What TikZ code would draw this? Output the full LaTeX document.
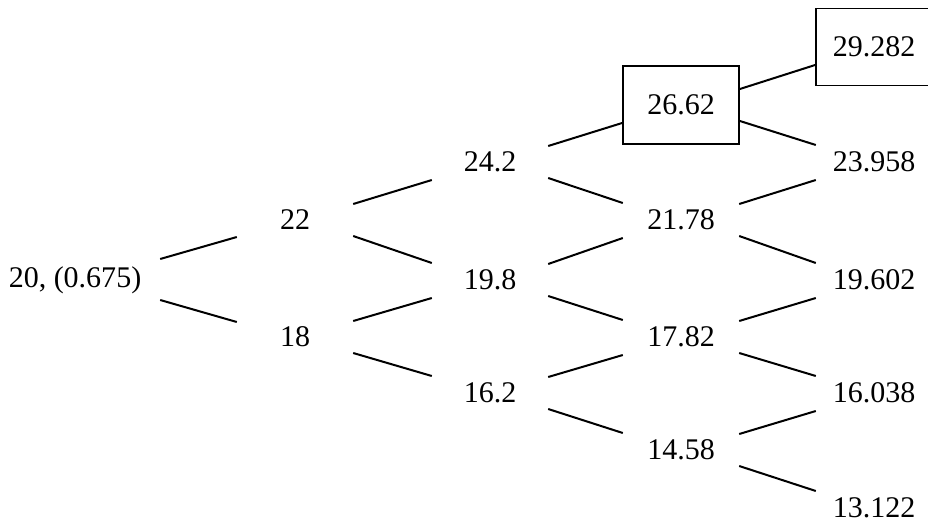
\documentclass[tikz,border=0pt]{standalone}
\usepackage{fontspec}
\setmainfont{Liberation Serif}
\begin{document}
\begin{tikzpicture}[x=1pt,y=-1pt,
  val/.style={minimum width=116pt,minimum height=78pt,inner sep=0pt,
    font=\fontsize{30}{36}\selectfont},
  boxed/.style={val,draw,line width=1.8pt},
  conn/.style={line width=2pt}]
\useasboundingbox (0,0) rectangle (928,525);
% column 0
\node[val,minimum width=170pt] (r) at (75,280) {20, (0.675)};
% column 1
\node[val] (a1) at (295,220) {22};
\node[val] (b1) at (295,337) {18};
% column 2
\node[val] (a2) at (490,162) {24.2};
\node[val] (b2) at (490,280) {19.8};
\node[val] (c2) at (490,393) {16.2};
% column 3
\node[boxed] (a3) at (681,105) {26.62};
\node[val] (b3) at (681,220) {21.78};
\node[val] (c3) at (681,337) {17.82};
\node[val] (d3) at (681,450) {14.58};
% column 4
\node[boxed,minimum height=77pt] (a4) at (874,47) {29.282};
\node[val] (b4) at (874,162) {23.958};
\node[val] (c4) at (874,280) {19.602};
\node[val] (d4) at (874,393) {16.038};
\node[val] (e4) at (874,508) {13.122};
% connectors
\draw[conn] ([yshift=21pt]r.east) -- ([yshift=-17pt]a1.west);
\draw[conn] ([yshift=-20pt]r.east) -- ([yshift=15pt]b1.west);
\foreach \s/\u/\d in {a1/a2/b2, b1/b2/c2, a2/a3/b3, b2/b3/c3, c2/c3/d3, a3/a4/b4, b3/b4/c4, c3/c4/d4, d3/d4/e4}{
  \draw[conn] ([yshift=16pt]\s.east) -- ([yshift=-18pt]\u.west);
  \draw[conn] ([yshift=-16pt]\s.east) -- ([yshift=17pt]\d.west);
}
\end{tikzpicture}
\end{document}
